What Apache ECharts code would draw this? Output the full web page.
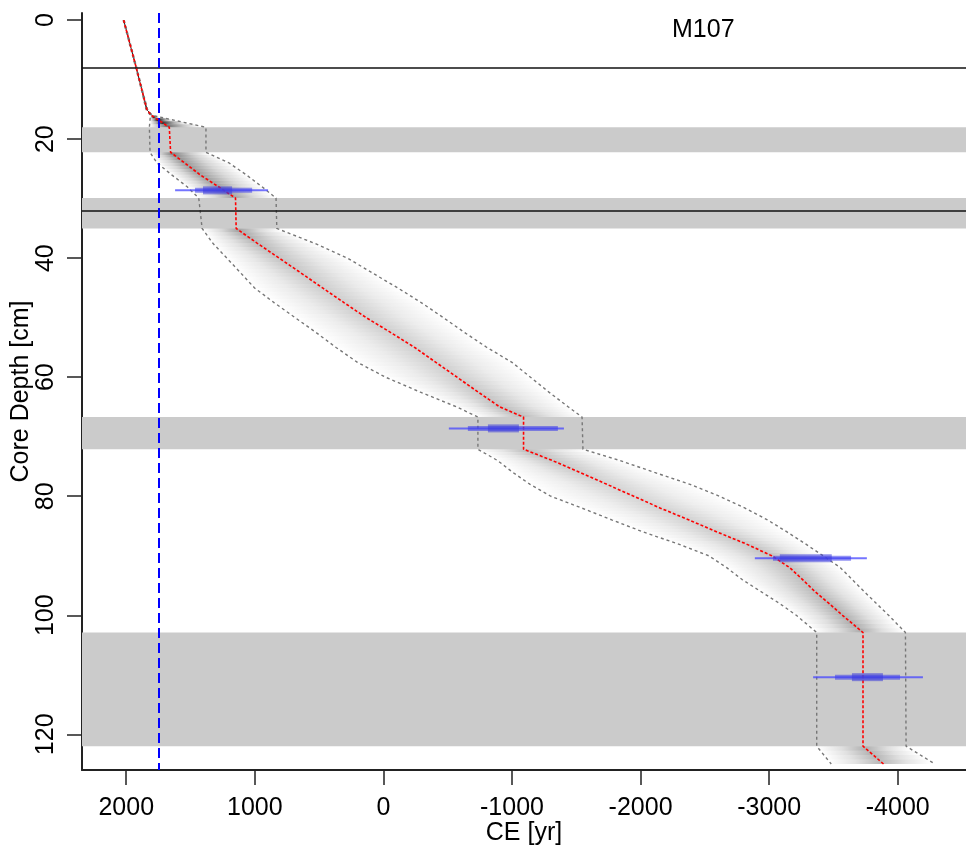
<!DOCTYPE html>
<html>
<head>
<meta charset="utf-8">
<script src="https://cdn.jsdelivr.net/npm/echarts@6.0.0/dist/echarts.min.js"></script>
<style>
  html, body { margin: 0; padding: 0; background: #fff; }
  #chart { width: 966px; height: 846px; }
</style>
</head>
<body>
<div id="chart"></div>
<script>
// depth grid (cm) and the age-depth model (CE years)
var depths = [0, 4, 8, 12, 15, 16, 18, 22.2, 24, 26, 28, 29.9, 35, 37.5, 40, 42.5, 45, 47.5, 50, 52.5,
  55, 57.5, 60, 62.5, 65, 66.7, 72.1, 74, 76, 78, 80, 82, 84, 86, 88, 90, 92, 94, 96, 98, 100, 102.9, 122, 125];
var median = [2020, 1971, 1922, 1875, 1840, 1805, 1665, 1655, 1545, 1425, 1282, 1150, 1145, 980, 810, 640, 473, 304, 133, -58,
  -243, -408, -573, -737, -906, -1090, -1090, -1314, -1528, -1738, -1947, -2155, -2378, -2594, -2820, -3020, -3160, -3260, -3355, -3465, -3570, -3730, -3730, -3890];
var upper = [2024, 1975, 1926, 1879, 1846, 1812, 1820, 1815, 1760, 1646, 1526, 1436, 1410, 1326, 1217, 1109, 1002, 848, 686, 523,
  368, 202, -17, -287, -571, -735, -735, -888, -1007, -1141, -1302, -1545, -1780, -2020, -2290, -2530, -2670, -2790, -2934, -3080, -3211, -3370, -3370, -3483];
var lower = [2016, 1967, 1918, 1871, 1834, 1798, 1380, 1380, 1200, 1066, 944, 835, 829, 535, 278, 84, -112, -297, -467, -632,
  -805, -1000, -1144, -1287, -1439, -1545, -1552, -1840, -2109, -2385, -2614, -2813, -2989, -3139, -3282, -3420, -3554, -3646, -3738, -3833, -3929, -4060, -4065, -4290];

// hiatus / slump bands and marker lines
var bandTop = [18, 29.9, 66.7, 102.9];
var bandBottom = [22.2, 35, 72.1, 122];
var hLines = [8, 32];
var refYear = 1750;

// calibrated dates: depth, outer range, mid range, core range
var dateDepth = [28.6, 68.6, 90.4, 110.4];
var dateOuter = [[1620, 897], [-509, -1404], [-2889, -3760], [-3342, -4196]];
var dateMid = [[1465, 1021], [-657, -1357], [-3030, -3637], [-3512, -4018]];
var dateCore = [[1403, 1177], [-813, -1054], [-3083, -3487], [-3644, -3885]];

var xTicks = [2000, 1000, 0, -1000, -2000, -3000, -4000];
var yTicks = [0, 20, 40, 60, 80, 100, 120];

var chart = echarts.init(document.getElementById('chart'));
var font = 'Liberation Sans, Arial, sans-serif';

function zip(xs) {
  return xs.map(function (v, i) { return [v, depths[i]]; });
}
function lerp(a, b, t) {
  return [a[0] + (b[0] - a[0]) * t, a[1] + (b[1] - a[1]) * t];
}
function plain(v) { return String(v); }

var shadeData = depths.slice(0, -1).map(function (d, i) { return [median[i], d, i]; });
var bandData = bandTop.map(function (t, i) { return [0, t, bandBottom[i]]; });
var dateData = dateDepth.map(function (d, i) {
  return [dateCore[i][0], d, dateOuter[i][0], dateOuter[i][1], dateMid[i][0], dateMid[i][1], dateCore[i][0], dateCore[i][1]];
});

function renderShade(params, api) {
  var i = api.value(2);
  var L0 = api.coord([upper[i], depths[i]]), L1 = api.coord([upper[i + 1], depths[i + 1]]);
  var M0 = api.coord([median[i], depths[i]]), M1 = api.coord([median[i + 1], depths[i + 1]]);
  var R0 = api.coord([lower[i], depths[i]]), R1 = api.coord([lower[i + 1], depths[i + 1]]);
  var w0 = upper[i] - lower[i], w1 = upper[i + 1] - lower[i + 1];
  var children = [];
  var n = 4;
  for (var k = 0; k < n; k++) {
    var t0 = k / n, t1 = (k + 1) / n, tm = (t0 + t1) / 2;
    var xl = lerp(L0, L1, tm)[0], xr = lerp(R0, R1, tm)[0], xm = lerp(M0, M1, tm)[0];
    var w = w0 + (w1 - w0) * tm;
    var a = Math.min(0.9, 220 / Math.max(w, 1));
    var fill;
    if (xr - xl < 1.5) {
      fill = 'rgba(0,0,0,' + a + ')';
    } else {
      var off = Math.min(0.97, Math.max(0.03, (xm - xl) / (xr - xl)));
      fill = new echarts.graphic.LinearGradient(xl, 0, xr, 0, [
        { offset: 0, color: 'rgba(0,0,0,0)' },
        { offset: off * 0.5, color: 'rgba(0,0,0,' + (a * 0.4) + ')' },
        { offset: off, color: 'rgba(0,0,0,' + a + ')' },
        { offset: off + (1 - off) * 0.5, color: 'rgba(0,0,0,' + (a * 0.4) + ')' },
        { offset: 1, color: 'rgba(0,0,0,0)' }
      ], true);
    }
    children.push({
      type: 'polygon',
      shape: { points: [lerp(L0, L1, t0), lerp(L0, L1, t1), lerp(R0, R1, t1), lerp(R0, R1, t0)] },
      style: { fill: fill, stroke: null }
    });
  }
  return { type: 'group', children: children };
}

function renderBand(params, api) {
  var cs = params.coordSys;
  var y0 = api.coord([0, api.value(1)])[1];
  var y1 = api.coord([0, api.value(2)])[1];
  return {
    type: 'rect',
    shape: { x: cs.x, y: y0, width: cs.width, height: y1 - y0 },
    style: { fill: '#cbcbcb' }
  };
}

function renderDate(params, api) {
  var d = api.value(1);
  var parts = [[api.value(2), api.value(3), 2, 'rgba(70,70,255,0.75)'],
               [api.value(4), api.value(5), 5, 'rgba(60,60,235,0.55)'],
               [api.value(6), api.value(7), 8, 'rgba(60,60,220,0.55)']];
  return {
    type: 'group',
    children: parts.map(function (p) {
      var a = api.coord([p[0], d]), b = api.coord([p[1], d]);
      return {
        type: 'rect',
        shape: { x: a[0], y: a[1] - p[2] / 2, width: b[0] - a[0], height: p[2] },
        style: { fill: p[3] }
      };
    })
  };
}

var option = {
  animation: false,
  backgroundColor: '#fff',
  title: {
    text: 'M107',
    left: 672,
    top: 18,
    padding: 0,
    textStyle: { fontFamily: font, fontSize: 25, fontWeight: 'normal', color: '#000' }
  },
  grid: { left: 82, right: 0, top: 13, bottom: 76, containLabel: false, outerBoundsMode: 'none' },
  xAxis: {
    type: 'value',
    inverse: true,
    min: -4531,
    max: 2344,
    name: 'CE [yr]',
    nameLocation: 'middle',
    nameGap: 51,
    nameMoveOverlap: false,
    nameTextStyle: { fontFamily: font, fontSize: 25, color: '#000' },
    axisLine: { show: true, onZero: false, lineStyle: { color: '#222', width: 2 } },
    axisTick: { show: true, length: 15, customValues: xTicks, lineStyle: { color: '#222', width: 1.5 } },
    axisLabel: { customValues: xTicks, formatter: plain, margin: 26, fontFamily: font, fontSize: 25, color: '#000' },
    splitLine: { show: false }
  },
  yAxis: {
    type: 'value',
    inverse: true,
    min: -1.2,
    max: 126,
    name: 'Core Depth [cm]',
    nameLocation: 'middle',
    nameGap: 48,
    nameMoveOverlap: false,
    nameRotate: 90,
    nameTextStyle: { fontFamily: font, fontSize: 25, color: '#000' },
    axisLine: { show: true, onZero: false, lineStyle: { color: '#222', width: 2 } },
    axisTick: { show: true, length: 15, customValues: yTicks, lineStyle: { color: '#222', width: 1.5 } },
    axisLabel: { customValues: yTicks, formatter: plain, rotate: 90, margin: 23, fontFamily: font, fontSize: 25, color: '#000' },
    splitLine: { show: false }
  },
  series: [
    {
      type: 'custom', z: 1, silent: true,
      renderItem: renderShade,
      data: shadeData,
      encode: { x: 0, y: 1 }
    },
    {
      type: 'custom', z: 2, silent: true,
      renderItem: renderBand,
      data: bandData,
      encode: { x: 0, y: 1 }
    },
    {
      type: 'line', z: 3, data: [], silent: true,
      markLine: {
        silent: true, symbol: ['none', 'none'], label: { show: false },
        lineStyle: { color: '#111', width: 1.6, type: 'solid' },
        data: hLines.map(function (h) { return { yAxis: h }; })
      }
    },
    {
      type: 'line', z: 4, data: zip(upper), showSymbol: false, silent: true,
      lineStyle: { color: '#777', width: 1.4, type: [3, 3] }
    },
    {
      type: 'line', z: 4, data: zip(lower), showSymbol: false, silent: true,
      lineStyle: { color: '#777', width: 1.4, type: [3, 3] }
    },
    {
      type: 'line', z: 5, data: zip(median), showSymbol: false, silent: true,
      lineStyle: { color: '#ff0000', width: 1.6, type: [3, 2] }
    },
    {
      type: 'line', z: 5, data: [], silent: true,
      markLine: {
        silent: true, symbol: ['none', 'none'], label: { show: false },
        lineStyle: { color: '#0000ff', width: 2, type: [10, 5] },
        data: [{ xAxis: refYear }]
      }
    },
    {
      type: 'custom', z: 6, silent: true,
      renderItem: renderDate,
      data: dateData,
      encode: { x: 0, y: 1 }
    }
  ]
};

chart.setOption(option);
</script>
</body>
</html>
